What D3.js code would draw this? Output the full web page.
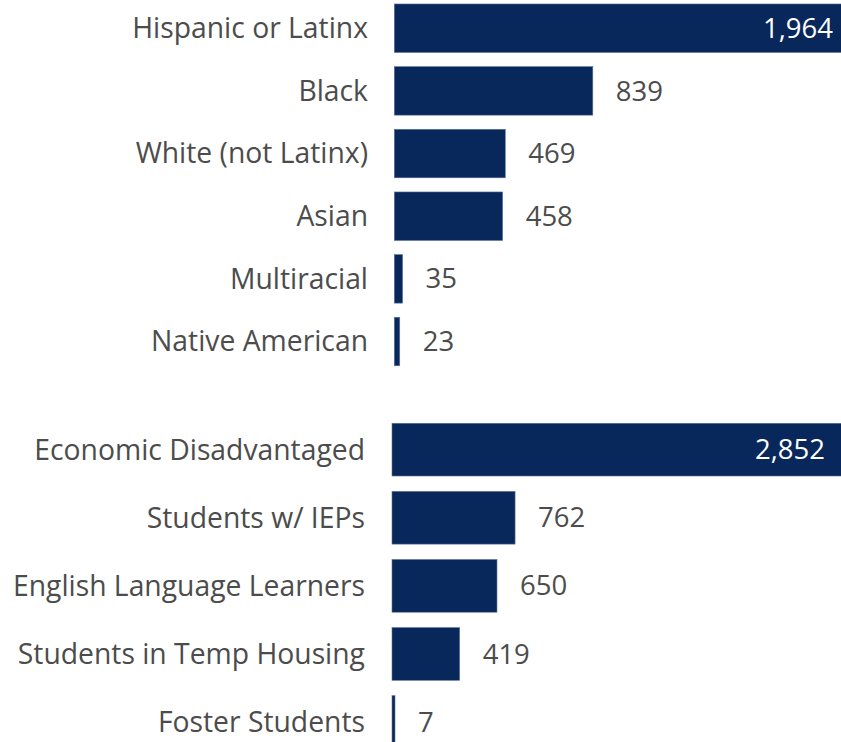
<!DOCTYPE html>
<html><head><meta charset="utf-8">
<script src="https://cdn.jsdelivr.net/npm/d3@7"></script>
<style>html,body{margin:0;padding:0;background:#fff;overflow:hidden}</style>
</head><body>
<svg id="c" width="841" height="742"></svg>
<script>
const raceCategories = ["Hispanic or Latinx","Black","White (not Latinx)","Asian","Multiracial","Native American"];
const raceValues = [1964, 839, 469, 458, 35, 23];
const groupCategories = ["Economic Disadvantaged","Students w/ IEPs","English Language Learners","Students in Temp Housing","Foster Students"];
const groupValues = [2852, 762, 650, 419, 7];

const W = 841, H = 742;
const barColor = "#08275a";
const textColor = "#4c4c4c";
const font = "'Open Sans', 'Noto Sans', sans-serif";
const fmt = d3.format(",");
const svg = d3.select("#c");

function panel(cats, vals, x0, x1, y0, y1, labelRight, insidePad) {
  const x = d3.scaleLinear().domain([0, d3.max(vals)]).range([x0, x1]);
  const y = d3.scaleBand().domain(cats).range([y0, y1]).paddingInner(0.226).paddingOuter(0.113);
  const g = svg.append("g");
  const data = cats.map((c, i) => ({c, v: vals[i]}));
  const bw = d => Math.max(3, x(d.v) - x(0));
  g.selectAll("rect").data(data).enter().append("rect")
    .attr("x", x(0)).attr("y", d => y(d.c))
    .attr("width", bw).attr("height", y.bandwidth())
    .attr("fill", barColor).attr("stroke", "#5a7398").attr("stroke-width", 0.6);
  g.selectAll("text.cat").data(data).enter().append("text").attr("class","cat")
    .attr("x", labelRight).attr("y", d => y(d.c) + y.bandwidth()/2)
    .attr("dy", "0.35em").attr("text-anchor", "end")
    .attr("font-family", font).attr("font-size", 28.3).attr("fill", textColor)
    .text(d => d.c);
  g.selectAll("text.val").data(data).enter().append("text").attr("class","val")
    .each(function(d) {
      const end = x(0) + bw(d);
      const inside = end > W - 40;
      d3.select(this)
        .attr("x", inside ? Math.min(end, W) - insidePad : end + 23)
        .attr("text-anchor", inside ? "end" : "start")
        .attr("fill", inside ? "#ffffff" : textColor);
    })
    .attr("y", d => y(d.c) + y.bandwidth()/2)
    .attr("dy", "0.35em")
    .attr("font-family", font).attr("font-size", 27.5)
    .text(d => fmt(d.v));
}

panel(raceCategories, raceValues, 394.3, 394.3 + 1964*0.2366, -3.1, -3.1 + 6*62.66, 368, 8);
panel(groupCategories, groupValues, 392, 392 + 2852*0.1615, 415.6, 415.6 + 5*68.1, 365, 16);
</script>
</body></html>
